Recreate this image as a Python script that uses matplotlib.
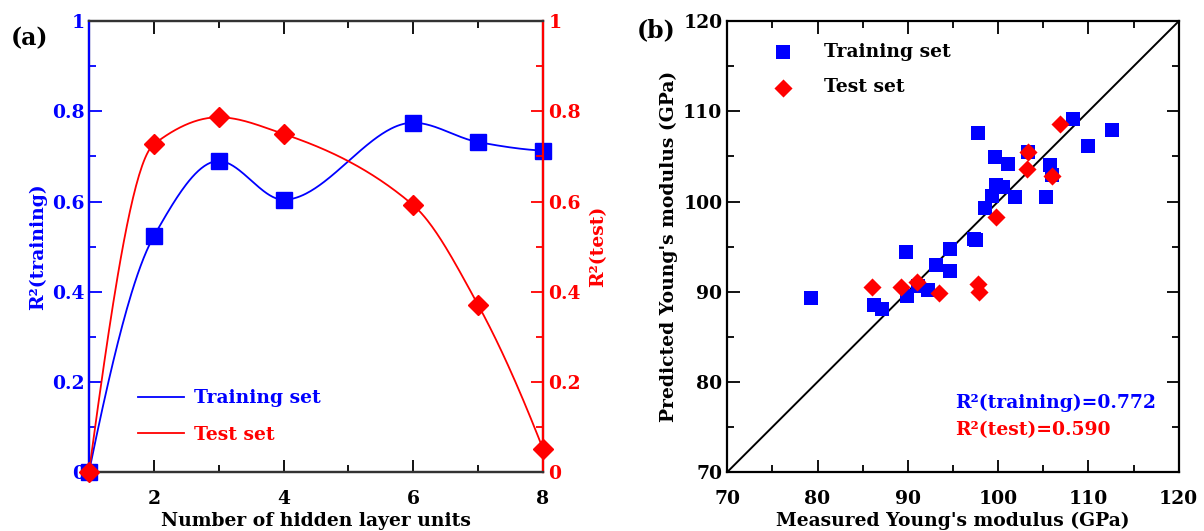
import numpy as np
import matplotlib
matplotlib.use("Agg")
import matplotlib.pyplot as plt
from matplotlib.ticker import MultipleLocator
from matplotlib.lines import Line2D

plt.rcParams['font.family'] = ['DejaVu Serif']
plt.rcParams['font.weight'] = 'bold'
plt.rcParams['axes.labelweight'] = 'bold'

# panel (a): R2 vs number of hidden layer units
units = [1, 2, 3, 4, 6, 7, 8]
r2_train = [0.0, 0.523, 0.690, 0.604, 0.775, 0.732, 0.713]
r2_test = [0.0, 0.727, 0.787, 0.750, 0.592, 0.371, 0.052]

# panel (b): measured vs predicted Young's modulus (GPa)
train_meas = [79.3, 86.2, 87.1, 89.8, 89.9, 91.1, 92.2, 93.1, 94.7, 94.7, 97.3, 97.5,
              97.8, 98.5, 99.3, 99.6, 99.8, 100.5, 101.1, 101.9, 103.3, 105.3, 105.8,
              106.0, 108.3, 109.9, 112.6]
train_pred = [89.3, 88.5, 88.1, 94.4, 89.5, 90.6, 90.2, 93.0, 94.7, 92.3, 95.9, 95.7,
              107.6, 99.3, 100.6, 104.9, 101.8, 101.6, 104.2, 100.5, 105.5, 100.5, 104.1,
              102.9, 109.2, 106.2, 107.9]
test_meas = [86.0, 89.2, 91.0, 93.4, 97.8, 97.9, 99.8, 103.2, 103.3, 106.0, 106.8]
test_pred = [90.5, 90.5, 91.1, 89.9, 90.9, 90.0, 98.3, 103.6, 105.5, 102.8, 108.6]
r2_text_train = "R²(training)=0.772"
r2_text_test = "R²(test)=0.590"

BLUE = '#0000ff'
RED = '#ff0000'


def pchip(x, y, num=300):
    # shape preserving piecewise cubic through the data points
    x = np.asarray(x, float)
    y = np.asarray(y, float)
    h = np.diff(x)
    d = np.diff(y) / h
    n = len(x)
    m = np.zeros(n)
    for k in range(1, n - 1):
        if d[k - 1] * d[k] > 0:
            w1 = 2 * h[k] + h[k - 1]
            w2 = h[k] + 2 * h[k - 1]
            m[k] = (w1 + w2) / (w1 / d[k - 1] + w2 / d[k])
    def end(h0, h1, d0, d1):
        s = ((2 * h0 + h1) * d0 - h0 * d1) / (h0 + h1)
        if np.sign(s) != np.sign(d0):
            s = 0.0
        elif np.sign(d0) != np.sign(d1) and abs(s) > abs(3 * d0):
            s = 3 * d0
        return s
    m[0] = end(h[0], h[1], d[0], d[1])
    m[-1] = end(h[-1], h[-2], d[-1], d[-2])
    xs = np.linspace(x[0], x[-1], num)
    ys = np.empty_like(xs)
    for j, xv in enumerate(xs):
        i = min(np.searchsorted(x, xv, side='right') - 1, n - 2)
        t = (xv - x[i]) / h[i]
        h00 = 2 * t ** 3 - 3 * t ** 2 + 1
        h10 = t ** 3 - 2 * t ** 2 + t
        h01 = -2 * t ** 3 + 3 * t ** 2
        h11 = t ** 3 - t ** 2
        ys[j] = h00 * y[i] + h10 * h[i] * m[i] + h01 * y[i + 1] + h11 * h[i] * m[i + 1]
    return xs, ys


fig = plt.figure(figsize=(12.04, 5.31), dpi=100)
fs = 13.5

# ---------------- panel (a) ----------------
ax1 = fig.add_axes([0.0739, 0.111, 0.377, 0.849])
ax2 = ax1.twinx()

xs, ys = pchip(units, r2_train)
ax1.plot(xs, ys, color=BLUE, lw=1.3)
ax1.plot(units, r2_train, 's', color=BLUE, ms=11, clip_on=False, zorder=5)
xs, ys = pchip(units, r2_test)
ax2.plot(xs, ys, color=RED, lw=1.3)
ax2.plot(units, r2_test, 'D', color=RED, ms=10, clip_on=False, zorder=6)

ticks_a = [0, 0.2, 0.4, 0.6, 0.8, 1]
tick_lbl_a = ['0', '0.2', '0.4', '0.6', '0.8', '1']
for a in (ax1, ax2):
    a.set_xlim(1, 8)
    a.set_ylim(0, 1)
    a.set_yticks(ticks_a)
    a.set_yticklabels(tick_lbl_a)
    a.yaxis.set_minor_locator(MultipleLocator(0.1))
ax1.xaxis.set_major_locator(MultipleLocator(2))
ax1.xaxis.set_minor_locator(MultipleLocator(1))

ax1.tick_params(axis='x', which='both', direction='in', top=True, labelsize=fs, pad=13, width=1.3)
ax1.tick_params(axis='x', which='major', length=9)
ax1.tick_params(axis='x', which='minor', length=5)
ax1.tick_params(axis='y', which='both', direction='in', colors=BLUE, labelsize=fs, width=1.3, pad=3)
ax1.tick_params(axis='y', which='major', length=9)
ax1.tick_params(axis='y', which='minor', length=5)
ax2.tick_params(axis='y', which='both', direction='in', colors=RED, labelsize=fs, width=1.3, pad=4)
ax2.tick_params(axis='y', which='major', length=9)
ax2.tick_params(axis='y', which='minor', length=5)

for a in (ax1, ax2):
    for s in a.spines.values():
        s.set_linewidth(1.6)
        s.set_color('#333333')
ax2.spines['left'].set_color(BLUE)
ax2.spines['right'].set_color(RED)

ax1.set_xlabel('Number of hidden layer units', fontsize=fs, labelpad=2.5)
ax1.set_ylabel('R²(training)', fontsize=fs, color=BLUE, labelpad=4)
ax2.set_ylabel('R²(test)', fontsize=fs, color=RED, labelpad=6)

handles = [Line2D([], [], color=BLUE, lw=1.3), Line2D([], [], color=RED, lw=1.3)]
leg = ax1.legend(handles, ['Training set', 'Test set'], loc='lower left',
                 bbox_to_anchor=(0.07, 0.025), frameon=False, fontsize=fs,
                 handlelength=2.5, handletextpad=0.5, labelspacing=1.0)
for t, c in zip(leg.get_texts(), [BLUE, RED]):
    t.set_color(c)
ax2.set_zorder(ax1.get_zorder() + 1)
ax2.patch.set_visible(False)

fig.text(0.009, 0.915, '(a)', fontsize=17)

# ---------------- panel (b) ----------------
ax3 = fig.add_axes([0.604, 0.111, 0.375, 0.849])
ax3.plot([70, 120], [70, 120], color='black', lw=1.4)
ax3.scatter(train_meas, train_pred, marker='s', s=110, color=BLUE, lw=0,
            label='Training set', zorder=3)
ax3.scatter(test_meas, test_pred, marker='D', s=85, color=RED, lw=0,
            label='Test set', zorder=4)
ax3.set_xlim(70, 120)
ax3.set_ylim(70, 120)
ax3.xaxis.set_major_locator(MultipleLocator(10))
ax3.xaxis.set_minor_locator(MultipleLocator(5))
ax3.yaxis.set_major_locator(MultipleLocator(10))
ax3.yaxis.set_minor_locator(MultipleLocator(5))
ax3.tick_params(which='both', direction='in', top=True, right=True, labelsize=fs, width=1.3)
ax3.tick_params(which='major', length=9)
ax3.tick_params(which='minor', length=5)
ax3.tick_params(axis='x', pad=13)
for s in ax3.spines.values():
    s.set_linewidth(1.6)
ax3.set_xlabel("Measured Young's modulus (GPa)", fontsize=fs, labelpad=2.5)
ax3.set_ylabel("Predicted Young's modulus (GPa)", fontsize=fs, labelpad=4)
ax3.legend(loc='upper left', bbox_to_anchor=(0.045, 0.99), frameon=False,
           fontsize=fs, handletextpad=1.2, labelspacing=0.95, scatterpoints=1)
ax3.text(0.505, 0.143, r2_text_train, transform=ax3.transAxes, color=BLUE, fontsize=fs)
ax3.text(0.505, 0.083, r2_text_test, transform=ax3.transAxes, color=RED, fontsize=fs)

fig.text(0.529, 0.93, '(b)', fontsize=17)

fig.savefig('out.png', dpi=100)
